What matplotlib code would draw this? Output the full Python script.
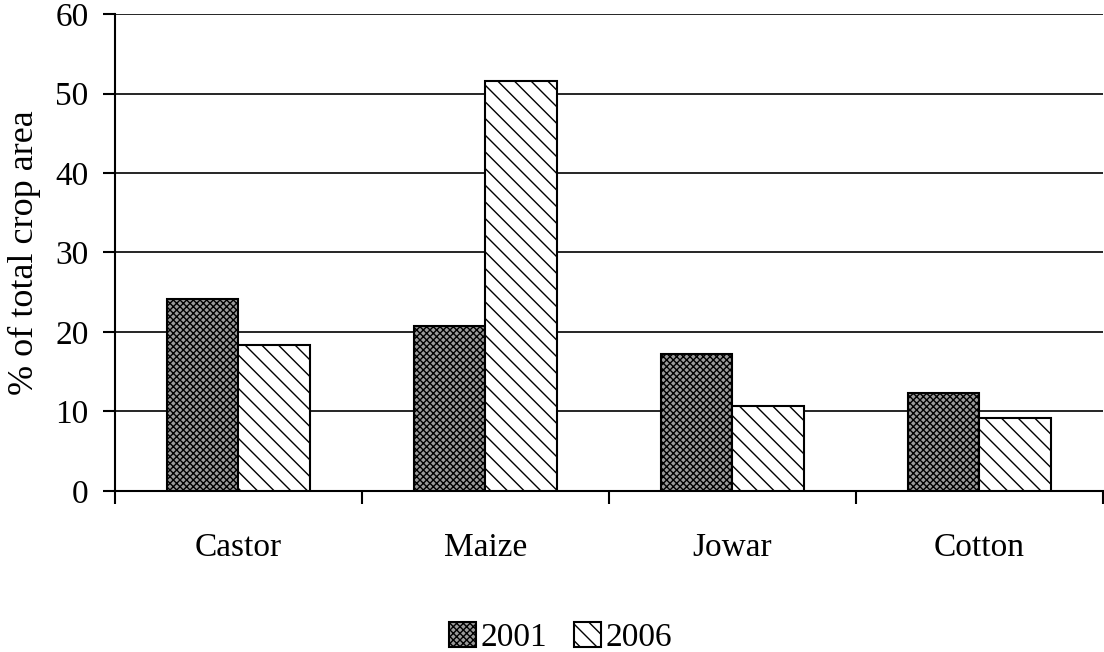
import numpy as np
import matplotlib.pyplot as plt
from matplotlib.ticker import FixedLocator

# values (% of total crop area)
crops = ['Castor', 'Maize', 'Jowar', 'Cotton']
area_2001 = [24.1, 20.8, 17.2, 12.3]
area_2006 = [18.4, 51.6, 10.7, 9.2]
years = ['2001', '2006']

plt.rcParams['font.family'] = ['Liberation Serif', 'DejaVu Serif']
plt.rcParams['hatch.linewidth'] = 1.0

fig = plt.figure(figsize=(11.04, 6.52), dpi=100)
ax = fig.add_axes([0.104, 0.247, 0.895, 0.7315])

x = np.arange(len(crops))
w = 0.29
ax.bar(x - w / 2, area_2001, w, color='#9a9a9a', edgecolor='black', linewidth=1.5,
       hatch='xxxxx', label=years[0], zorder=3)
ax.bar(x + w / 2, area_2006, w, color='white', edgecolor='black', linewidth=1.5,
       hatch='\\\\', label=years[1], zorder=3)

ax.set_xlim(-0.5, len(crops) - 0.5)
ax.set_ylim(0, 60)
ax.set_yticks(range(0, 61, 10))
ax.yaxis.grid(True, color='black', linewidth=1.2, zorder=0)
ax.set_axisbelow(True)

ax.set_xticks(x)
ax.set_xticklabels(crops)
ax.xaxis.set_minor_locator(FixedLocator(np.arange(-0.5, len(crops), 1.0)))
ax.tick_params(axis='x', which='major', length=0, pad=30, labelsize=24)
ax.tick_params(axis='x', which='minor', length=9, width=1.5, direction='out')
ax.tick_params(axis='y', length=9, width=1.5, direction='out', labelsize=24, pad=10)

for s in ['top', 'right']:
    ax.spines[s].set_visible(False)
for s in ['left', 'bottom']:
    ax.spines[s].set_linewidth(1.5)

ax.set_ylabel('% of total crop area', fontsize=26, labelpad=10)

fig.legend(loc='center', bbox_to_anchor=(0.508, 0.022), ncol=2, frameon=False,
           fontsize=24, handlelength=0.8, handleheight=0.8, handletextpad=0.15,
           columnspacing=0.8)

fig.savefig('out.png', dpi=100)
